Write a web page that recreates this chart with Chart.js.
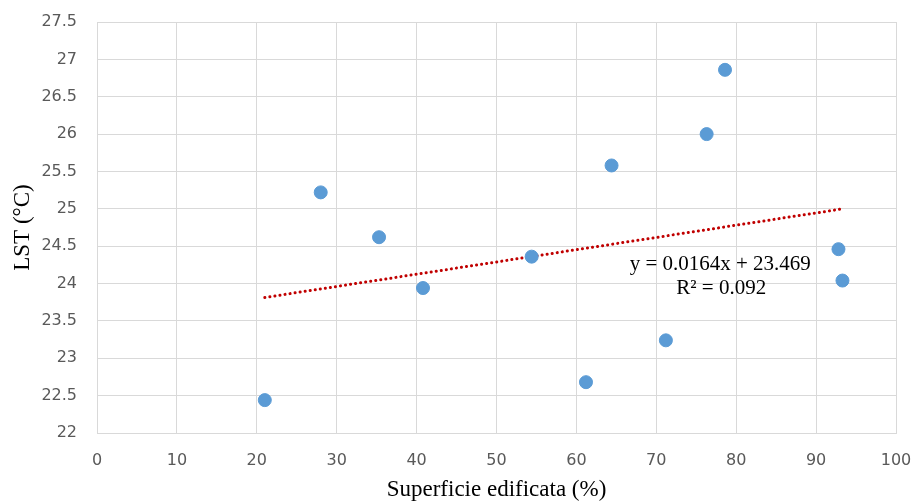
<!DOCTYPE html>
<html>
<head>
<meta charset="utf-8">
<script src="https://cdn.jsdelivr.net/npm/chart.js@4"></script>
<style>
  html, body { margin: 0; padding: 0; background: #fff; }
  #wrap { width: 914px; height: 504px; }
</style>
</head>
<body>
<div id="wrap"><canvas id="myChart" width="914" height="504"></canvas></div>
<script>
// built-up surface (%) and land surface temperature (°C)
const builtUp = [21.0, 28.0, 35.3, 40.8, 54.4, 61.2, 64.4, 71.2, 76.3, 78.6, 92.8, 93.3];
const lst = [22.44, 25.22, 24.62, 23.94, 24.36, 22.68, 25.58, 23.24, 26.0, 26.86, 24.46, 24.04];

// linear trend line shown in the chart
const slope = 0.0164;
const intercept = 23.469;
const equationText = ["y = 0.0164x + 23.469", "R\u00b2 = 0.092"];
const equationAt = { x: 78.0, y: 24.09 };

const points = builtUp.map((x, i) => ({ x: x, y: lst[i] }));
const xMin = Math.min(...builtUp);
const xMax = Math.max(...builtUp);
const trend = [
  { x: xMin, y: slope * xMin + intercept },
  { x: xMax, y: slope * xMax + intercept }
];

// draws the equation label next to the trend line
const equationLabel = {
  id: "equationLabel",
  afterDraw(chart) {
    const ctx = chart.ctx;
    const px = chart.scales.x.getPixelForValue(equationAt.x);
    const py = chart.scales.y.getPixelForValue(equationAt.y);
    ctx.save();
    ctx.fillStyle = "#000";
    ctx.font = "21px 'Liberation Serif'";
    ctx.textAlign = "center";
    ctx.textBaseline = "middle";
    ctx.fillText(equationText[0], px, py - 12);
    ctx.fillText(equationText[1], px + 1, py + 12);
    ctx.restore();
  }
};

const ctx = document.getElementById("myChart").getContext("2d");
const chart = new Chart(ctx, {
  type: "scatter",
  data: {
    datasets: [
      {
        label: "LST",
        data: points,
        backgroundColor: "#5B9BD5",
        borderColor: "#5B9BD5",
        pointRadius: 6.5,
        pointHoverRadius: 6.5,
        order: 1
      },
      {
        label: "Trend",
        type: "line",
        data: trend,
        borderColor: "#C00000",
        borderWidth: 3,
        borderDash: [0.1, 5],
        borderCapStyle: "round",
        pointRadius: 0,
        fill: false,
        order: 2
      }
    ]
  },
  options: {
    responsive: false,
    animation: false,
    layout: { padding: { top: 22, right: 18, left: 0, bottom: 0 } },
    plugins: {
      legend: { display: false },
      tooltip: { enabled: false }
    },
    scales: {
      x: {
        type: "linear",
        min: 0,
        max: 100,
        ticks: { stepSize: 10, color: "#595959", font: { family: "DejaVu Sans", size: 16 }, padding: 18 },
        grid: { color: "#d9d9d9", drawTicks: false },
        border: { color: "#d9d9d9" },
        title: {
          display: true,
          text: "Superficie edificata (%)",
          color: "#000",
          font: { family: "Liberation Serif", size: 23 },
          padding: { top: 5, bottom: 0 }
        },
        afterFit(scale) {
          scale.height = 71;
          scale.paddingLeft = 0;
          scale.paddingRight = 0;
        }
      },
      y: {
        min: 22,
        max: 27.5,
        ticks: {
          stepSize: 0.5,
          color: "#595959",
          font: { family: "DejaVu Sans", size: 16 },
          padding: 20,
          callback: v => String(v)
        },
        grid: { color: "#d9d9d9", drawTicks: false },
        border: { color: "#d9d9d9" },
        title: {
          display: true,
          text: "LST (\u00b0C)",
          color: "#000",
          font: { family: "Liberation Serif", size: 23 },
          padding: { top: 9, bottom: 0 }
        },
        afterFit(scale) {
          scale.width = 97;
          scale.paddingTop = 0;
          scale.paddingBottom = 0;
        }
      }
    }
  },
  plugins: [equationLabel]
});
</script>
</body>
</html>
